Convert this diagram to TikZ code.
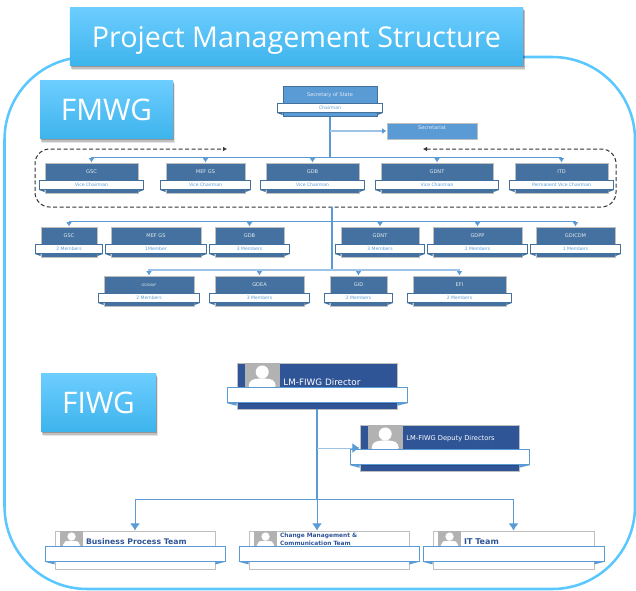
\documentclass[tikz,border=0pt]{standalone}
\usepackage{fontspec}
\setmainfont{DejaVu Sans}
\newfontfamily\headfont{Open Sans}
\usetikzlibrary{arrows.meta}
\usetikzlibrary{shadows}

\definecolor{skyline}{HTML}{5AC8FF}
\definecolor{headtop}{HTML}{6DCDFF}
\definecolor{headmid}{HTML}{4DC3FF}
\definecolor{headlow}{HTML}{3DB4EC}
\definecolor{linkblue}{HTML}{5B9BD5}
\definecolor{linklight}{HTML}{9DC3E6}
\definecolor{cardblue}{HTML}{44719F}
\definecolor{leadblue}{HTML}{2F5597}
\definecolor{edgeblue}{HTML}{41719C}
\definecolor{edgegray}{HTML}{BFBFBF}

\tikzset{
  softshadow/.style={
    drop shadow={shadow xshift=1.6pt, shadow yshift=-2.8pt, fill=black, opacity=0.10},
    drop shadow={shadow xshift=1.1pt, shadow yshift=-2pt, fill=black, opacity=0.16},
    drop shadow={shadow xshift=0.6pt, shadow yshift=-1.2pt, fill=black, opacity=0.22}},
  headbox/.style={rectangle, inner sep=0pt, text=white, top color=headtop, middle color=headmid, bottom color=headlow, softshadow},
  cardbox/.style={rectangle, line width=0.6pt, inner sep=0pt},
  cardband/.style={rectangle, draw=edgeblue, fill=white, line width=0.6pt, inner sep=0pt, font=\fontsize{3.4}{4}\selectfont, text=linkblue},
  cardtitle/.style={inner sep=0pt, text=white!85!cardblue, font=\fontsize{3.8}{4.5}\selectfont},
  leadband/.style={rectangle, draw=linkblue, fill=white, line width=0.7pt, inner sep=0pt,
    drop shadow={shadow xshift=0.8pt, shadow yshift=-0.8pt, fill=black, opacity=0.12}},
  photo/.style={rectangle, fill=black!30, inner sep=0pt, anchor=north west},
  teamtext/.style={anchor=west, inner sep=0pt, align=left, text=leadblue},
  orgline/.style={draw=linkblue, line width=0.75pt, -{Latex[length=3.4pt,width=4.4pt]}},
  orglight/.style={draw=linklight, line width=0.9pt, -{Latex[length=3.4pt,width=4.4pt,color=linkblue]}},
  bigline/.style={draw=linkblue, line width=0.75pt, -{Latex[length=5.5pt,width=7.5pt]}},
  trunk/.style={draw=linkblue, line width=1pt},
  person/.pic={
    \fill[white] (0,-16.5) circle (6.5);
    \fill[white, rounded corners=3pt] (-13.5,1) -- (-13.5,-7) -- (-7,-10) -- (7,-10) -- (13.5,-7) -- (13.5,1) -- cycle;
  }
}

\begin{document}
\begin{tikzpicture}[x=0.75pt, y=-0.75pt]
  \useasboundingbox (0,0) rectangle (636,590);

  % Frame
  \draw[skyline, line width=1.9pt, rounded corners=62pt] (4.5,57) rectangle (635,589);

  % Headings
  \node[headbox, minimum width=340pt, minimum height=44pt, text height=23pt, text depth=5.8pt, font=\headfont\fontsize{21.5}{26}\selectfont] (head) at (296.5,36.5) {Project Management Structure};
  \node[headbox, minimum width=99.75pt, minimum height=44pt, font=\headfont\fontsize{22.3}{26}\selectfont] (fmwg) at (106.5,109.5) {FMWG};
  \node[headbox, minimum width=86.25pt, minimum height=44pt, font=\headfont\fontsize{22.3}{26}\selectfont] (fiwg) at (98.5,402.5) {FIWG};

  % FMWG cards
  \foreach \nm/\xa/\xb/\ya/\ttl/\subt/\fc/\ec in {
    sec/283/377/86/Secretary of State/Chairman/linkblue/edgeblue,
    % vice chairmen
    gsca/45/138/163/GSC/Vice Chairman/cardblue/edgegray,
    mefa/166/245/163/MEF GS/Vice Chairman/cardblue/edgegray,
    gdba/266/359/163/GDB/Vice Chairman/cardblue/edgegray,
    gdnta/381/493/163/GDNT/Vice Chairman/cardblue/edgegray,
    itd/515/608/163/ITD/Permanent Vice Chairman/cardblue/edgegray,
    % members
    gscb/41/97/227/GSC/2 Members/cardblue/edgegray,
    mefb/111/201/227/MEF GS/1Member/cardblue/edgegray,
    gdbb/215/284/227/GDB/3 Members/cardblue/edgegray,
    gdntb/341/419/227/GDNT/3 Members/cardblue/edgegray,
    gdpp/433/522/227/GDPP/2 Members/cardblue/edgegray,
    gdicdm/536/615/227/GDICDM/1 Members/cardblue/edgegray,
    gdsnaf/104/194/276/{\fontsize{2.6}{3}\selectfont GDSNAF}/2 Members/cardblue/edgegray,
    gdea/215/304/276/GDEA/3 Members/cardblue/edgegray,
    gid/330/387/276/GID/2 Members/cardblue/edgegray,
    efi/413/506/276/EFI/2 Members/cardblue/edgegray%
  } {
    \node[cardbox, draw=\ec, fill=\fc, minimum width={(\xb-\xa)*0.75pt}, minimum height=23pt] (\nm) at ({(\xa+\xb)/2},\ya+15.3) {};
    \node[cardtitle] (\nm-t) at ([yshift=-7pt]\nm.north) {\ttl};
    \node[cardband, minimum width={(\xb-\xa+11)*0.75pt}, minimum height=6.6pt] (\nm-l) at ([yshift=-17pt]\nm.north) {\subt};
    \fill[edgeblue] (\nm-l.south west) -- ([yshift=-1.5pt]\nm-l.south west -| \nm.west) -- (\nm-l.south west -| \nm.west) -- cycle;
    \fill[edgeblue] (\nm-l.south east) -- ([yshift=-1.5pt]\nm-l.south east -| \nm.east) -- (\nm-l.south east -| \nm.east) -- cycle;
  }
  \node[cardbox, draw=edgegray, fill=linkblue, minimum width=67.5pt, minimum height=12pt] (secr) at (432,131) {};
  \node[cardtitle] (secr-t) at ([yshift=-3.7pt]secr.north) {Secretariat};

  % Open dashed ring
  \coordinate (ringl) at (227,149);
  \coordinate (ringr) at (423,149);
  \draw[black!80, line width=0.75pt, dash pattern=on 3pt off 1.8pt, rounded corners=11pt, {Latex[length=3pt,width=3.5pt]}-{Latex[length=3pt,width=3.5pt]}]
    (ringr) -- (616,149) -- (616,207) -- (35,207) -- (35,149) -- (ringl);

  % FMWG links
  \coordinate (busa) at (330,157);
  \coordinate (busb) at (332,221);
  \coordinate (busc) at (332,270);
  \coordinate (lowtop) at (332,207);
  \draw[trunk] (sec.south) -- (busa);
  \draw[trunk] (lowtop) -- (busc);
  \draw[orglight] (sec.south |- secr.west) -- (secr.west);
  \foreach \nm in {gsca,mefa,gdba,gdnta,itd}
    \draw[orgline] (busa) -| (\nm.north);
  \foreach \nm in {gscb,gdbb,gdntb,gdpp,gdicdm}
    \draw[orgline] (busb) -| (\nm.north);
  \foreach \nm in {gdsnaf,gdea,gid,efi}
    \draw[orglight] (busc) -| (\nm.north);

  % FIWG lead cards
  \foreach \nm/\xa/\xb/\ya/\ttl/\fs/\ty in {
    dir/237/397/363/LM-FIWG Director/6.6/15,
    dep/360/519/425/LM-FIWG Deputy Directors/5/10.5%
  } {
    \node[cardbox, draw=edgegray, fill=leadblue, minimum width={(\xb-\xa)*0.75pt}, minimum height=34.5pt,
      drop shadow={shadow xshift=0.8pt, shadow yshift=-0.8pt, fill=black, opacity=0.15}] (\nm) at ({(\xa+\xb)/2},\ya+23) {};
    \node[photo, minimum width=26pt, minimum height=19pt] (\nm-p) at ([xshift=6pt]\nm.north west) {};
    \pic at (\nm-p.south) {person};
    \node[inner sep=0pt, anchor=west, text=white, font=\fontsize{\fs}{7}\selectfont] (\nm-t) at ([xshift=2.5pt,yshift=-\ty pt]\nm-p.north east) {\ttl};
    \node[leadband, minimum width={(\xb-\xa+20)*0.75pt}, minimum height=11pt] (\nm-l) at ([yshift=-24.5pt]\nm.north) {};
    \fill[linkblue] (\nm-l.south west) -- ([yshift=-2pt]\nm-l.south west -| \nm.west) -- (\nm-l.south west -| \nm.west) -- cycle;
    \fill[linkblue] (\nm-l.south east) -- ([yshift=-2pt]\nm-l.south east -| \nm.east) -- (\nm-l.south east -| \nm.east) -- cycle;
  }

  % FIWG teams
  \foreach \nm/\xa/\xb/\ttl/\fs/\ty in {
    bpt/55/215/Business Process Team/5.8/2.2,
    cmt/249/409/{Change Management \&\\Communication Team}/4.4/0.6,
    itt/433/594/IT Team/6/2.2%
  } {
    \node[cardbox, draw=edgegray, fill=white, minimum width={(\xb-\xa)*0.75pt}, minimum height=28.5pt,
      drop shadow={shadow xshift=0.8pt, shadow yshift=-0.8pt, fill=black, opacity=0.15}] (\nm) at ({(\xa+\xb)/2},550) {};
    \node[photo, minimum width=17pt, minimum height=12pt] (\nm-p) at ([xshift=4pt]\nm.north west) {};
    \pic[scale=0.64] at (\nm-p.south) {person};
    \node[leadband, minimum width={(\xb-\xa+20)*0.75pt}, minimum height=11pt] (\nm-l) at ([yshift=-17.5pt]\nm.north) {};
    \node[teamtext, font=\bfseries\fontsize{\fs}{5.8}\selectfont] (\nm-t) at ([xshift=2pt,yshift=-\ty pt]\nm-p.east) {\ttl};
    \fill[linkblue] (\nm-l.south west) -- ([yshift=-2pt]\nm-l.south west -| \nm.west) -- (\nm-l.south west -| \nm.west) -- cycle;
    \fill[linkblue] (\nm-l.south east) -- ([yshift=-2pt]\nm-l.south east -| \nm.east) -- (\nm-l.south east -| \nm.east) -- cycle;
  }

  % FIWG links
  \coordinate (busd) at (317,499);
  \draw[trunk] (dir.south) -- (busd);
  \draw[bigline] (busd) -- (dir.south |- cmt.north);
  \draw[bigline, draw=linklight, -{Latex[length=5.5pt,width=7.5pt,color=linkblue]}] (dir.south |- dep.west) -- (dep.west);
  \draw[bigline] (busd) -| (bpt.north);
  \draw[bigline] (busd) -| (itt.north);
\end{tikzpicture}
\end{document}
